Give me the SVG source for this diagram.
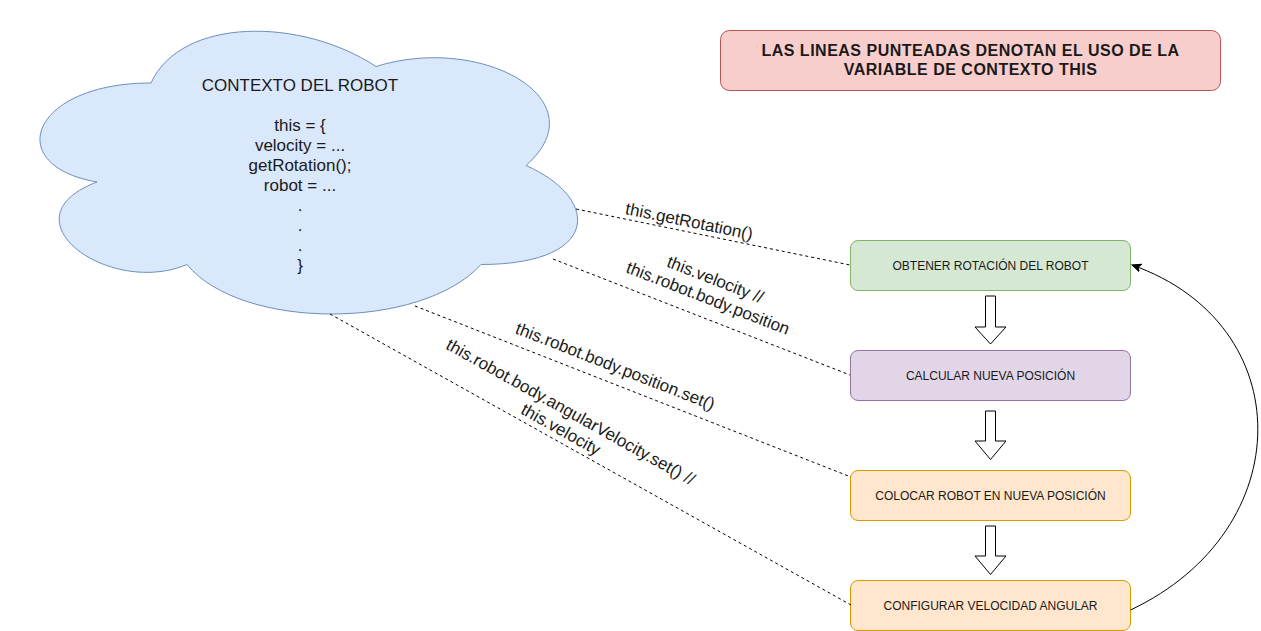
<svg xmlns="http://www.w3.org/2000/svg" width="1261" height="631" viewBox="0 0 1261 631">
<style>
.t{font-family:"Liberation Sans",Arial,Helvetica,sans-serif;fill:#1a1a1a}
.lbl{font-size:17px;text-anchor:middle}
.box{font-size:12px;text-anchor:middle}
.dash{fill:none;stroke:#000;stroke-width:1;stroke-dasharray:3 3}
.blk{fill:#fff;stroke:#000;stroke-width:1}
</style>
<defs>
<marker id="arr" markerWidth="10" markerHeight="10" refX="9" refY="5" orient="auto" markerUnits="userSpaceOnUse">
<path d="M0,1 L9,5 L0,9 L2.5,5 Z" fill="#000" stroke="#000" stroke-width="1"/>
</marker>
</defs>
<rect width="1261" height="631" fill="#fff"/>

<g id="cloud">
<path d="M151,83 C31,83 1,165.5 97,182 C1,218.3 109,297.5 187,264.5 C241,330.5 421,330.5 481,264.5 C601,264.5 601,198.5 526,165.5 C601,99.5 481,33.5 376,66.5 C301,17 181,17 151,83 Z" fill="#dae8fc" stroke="#6c8ebf" stroke-width="1"/>
<text class="t lbl" x="300" y="91">CONTEXTO DEL ROBOT</text>
<text class="t lbl" x="300" y="131">this = {</text>
<text class="t lbl" x="300" y="151">velocity = ...</text>
<text class="t lbl" x="300" y="171">getRotation();</text>
<text class="t lbl" x="300" y="191">robot = ...</text>
<text class="t lbl" x="300" y="211">.</text>
<text class="t lbl" x="300" y="231">.</text>
<text class="t lbl" x="300" y="251">.</text>
<text class="t lbl" x="300" y="271">}</text>
</g>

<g id="note">
<rect x="720.5" y="30.5" width="500" height="60" rx="9" fill="#f8cecc" stroke="#b85450"/>
<text class="t" x="970.5" y="56" font-size="16" font-weight="bold" text-anchor="middle" letter-spacing="0.5">LAS LINEAS PUNTEADAS DENOTAN EL USO DE LA</text>
<text class="t" x="970.5" y="75" font-size="16" font-weight="bold" text-anchor="middle" letter-spacing="0.5">VARIABLE DE CONTEXTO THIS</text>
</g>

<g id="step1">
<rect x="850.5" y="240.5" width="280" height="50" rx="7.5" fill="#d5e8d4" stroke="#82b366"/>
<text class="t box" x="990.5" y="270">OBTENER ROTACIÓN DEL ROBOT</text>
</g>
<g id="step2">
<rect x="850.5" y="350.5" width="280" height="50" rx="7.5" fill="#e1d5e7" stroke="#9673a6"/>
<text class="t box" x="990.5" y="380">CALCULAR NUEVA POSICIÓN</text>
</g>
<g id="step3">
<rect x="850.5" y="470.5" width="280" height="50" rx="7.5" fill="#ffe6cc" stroke="#d79b00"/>
<text class="t box" x="990.5" y="500">COLOCAR ROBOT EN NUEVA POSICIÓN</text>
</g>
<g id="step4">
<rect x="850.5" y="580.5" width="280" height="50" rx="7.5" fill="#ffe6cc" stroke="#d79b00"/>
<text class="t box" x="990.5" y="610">CONFIGURAR VELOCIDAD ANGULAR</text>
</g>

<g id="connectors">
<polygon class="blk" points="985.5,296 995.5,296 995.5,327 1006,327 990.5,344 975,327 985.5,327"/>
<polygon class="blk" points="985.5,411 995.5,411 995.5,441 1006,441 990.5,459.5 975,441 985.5,441"/>
<polygon class="blk" points="985.5,526 995.5,526 995.5,556 1006,556 990.5,574.5 975,556 985.5,556"/>
<path d="M1130.5,610 C1300,530 1300,324 1132,265" fill="none" stroke="#000" stroke-width="1" marker-end="url(#arr)"/>

<line class="dash" x1="576" y1="209" x2="850" y2="265"/>
<line class="dash" x1="553" y1="259" x2="850" y2="375"/>
<line class="dash" x1="415" y1="306" x2="851" y2="477"/>
<line class="dash" x1="330" y1="314" x2="851" y2="605"/>

<g transform="translate(689,222) rotate(11.5)">
<text class="t lbl" x="0" y="5">this.getRotation()</text>
</g>
<g transform="translate(711.4,289.5) rotate(21.3)">
<text class="t lbl" x="0" y="-5">this.velocity //</text>
<text class="t lbl" x="0" y="15">this.robot.body.position</text>
</g>
<g transform="translate(615,367) rotate(21.4)">
<text class="t lbl" x="0" y="5">this.robot.body.position.set()</text>
</g>
<g transform="translate(565.4,421.3) rotate(29.2)">
<text class="t lbl" x="0" y="-5">this.robot.body.angularVelocity.set() //</text>
<text class="t lbl" x="0" y="15">this.velocity</text>
</g>
</g>
</svg>
